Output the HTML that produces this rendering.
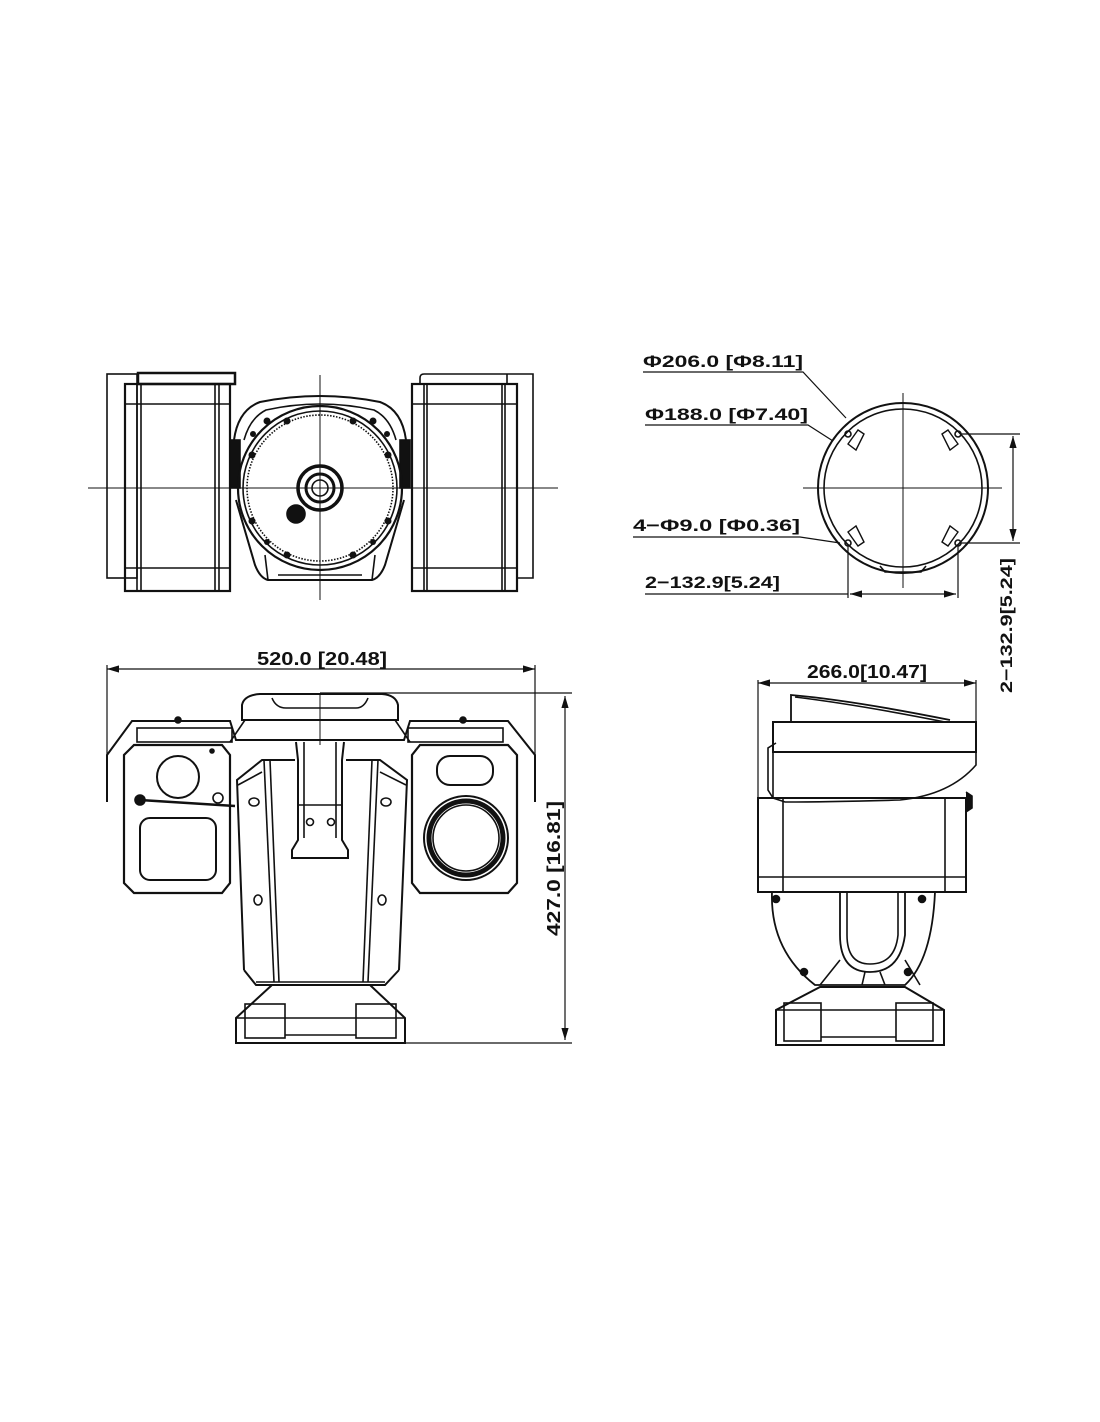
<!DOCTYPE html>
<html><head><meta charset="utf-8"><style>
html,body{margin:0;padding:0;background:#fff}
svg{display:block}
text{font-family:"Liberation Sans",sans-serif;font-weight:bold;fill:#111}
</style></head><body>
<svg width="1100" height="1422" viewBox="0 0 1100 1422" xmlns="http://www.w3.org/2000/svg">
<defs>
<marker id="a" viewBox="0 0 10 6" refX="10" refY="3" markerWidth="10" markerHeight="6" orient="auto-start-reverse"><path d="M0,0 L10,3 L0,6 Z" fill="#111"/></marker>
</defs>
<g fill="none" stroke="#111" stroke-width="1.6">
<!-- ===== TOP LEFT VIEW ===== -->
<line x1="88" y1="488" x2="558" y2="488" stroke-width="1"/>
<line x1="320" y1="375" x2="320" y2="600" stroke-width="1"/>
<rect x="107" y="374" width="30" height="204"/>
<rect x="125" y="384" width="105" height="207" stroke-width="2.2"/>
<line x1="137" y1="384" x2="137" y2="591"/><line x1="141" y1="384" x2="141" y2="591"/>
<line x1="215" y1="384" x2="215" y2="591"/><line x1="219" y1="384" x2="219" y2="591"/>
<line x1="125" y1="404" x2="230" y2="404"/><line x1="125" y1="568" x2="230" y2="568"/>
<rect x="138" y="373" width="97" height="11" stroke-width="2.5"/>
<path d="M420,384 V378 Q420,374 424,374 H533 V578 H517"/>
<line x1="507" y1="374" x2="507" y2="384"/>
<rect x="412" y="384" width="105" height="207" stroke-width="2.2"/>
<line x1="424" y1="384" x2="424" y2="591"/><line x1="427" y1="384" x2="427" y2="591"/>
<line x1="502" y1="384" x2="502" y2="591"/><line x1="505" y1="384" x2="505" y2="591"/>
<line x1="412" y1="404" x2="517" y2="404"/><line x1="412" y1="568" x2="517" y2="568"/>
<path d="M234,440 Q238,410 260,402 Q320,390 380,402 Q402,410 406,440" stroke-width="2"/>
<path d="M244,440 Q250,418 266,410 Q320,398 374,410 Q390,418 396,440"/>
<rect x="230" y="440" width="10" height="48" fill="#111"/>
<rect x="400" y="440" width="10" height="48" fill="#111"/>
<path d="M236,500 L255,565 Q260,578 268,580 H372 Q380,578 385,565 L404,500" stroke-width="2"/>
<line x1="265" y1="555" x2="268" y2="580"/><line x1="375" y1="555" x2="372" y2="580"/>
<line x1="278" y1="575" x2="362" y2="575"/>
<circle cx="320" cy="488" r="82" stroke-width="2.2"/>
<circle cx="320" cy="488" r="77"/>
<circle cx="320" cy="488" r="73" stroke-dasharray="1.5 1.5"/>
<g fill="#111" stroke="none">
<circle cx="267" cy="421" r="3.5"/><circle cx="287" cy="421" r="3.5"/><circle cx="253" cy="434" r="3"/><circle cx="252" cy="455" r="3.5"/>
<circle cx="373" cy="421" r="3.5"/><circle cx="353" cy="421" r="3.5"/><circle cx="387" cy="434" r="3"/><circle cx="388" cy="455" r="3.5"/>
<circle cx="252" cy="521" r="3.5"/><circle cx="267" cy="542" r="3"/><circle cx="287" cy="555" r="3.5"/>
<circle cx="388" cy="521" r="3.5"/><circle cx="373" cy="542" r="3"/><circle cx="353" cy="555" r="3.5"/>
</g>
<circle cx="320" cy="488" r="22" stroke-width="3.5"/>
<circle cx="320" cy="488" r="14" stroke-width="3"/>
<circle cx="320" cy="488" r="8"/>
<circle cx="296" cy="514" r="9" fill="#111"/>
</g>

<!-- ===== TOP RIGHT VIEW ===== -->
<g fill="none" stroke="#111" stroke-width="1.6">
<line x1="803" y1="488" x2="1002" y2="488" stroke-width="1"/>
<line x1="903" y1="393" x2="903" y2="588" stroke-width="1"/>
<circle cx="903" cy="488" r="85" stroke-width="2"/>
<circle cx="903" cy="488" r="79"/>
<path d="M848,444 L858,430 L864,434 L856,450 Z M958,444 L948,430 L942,434 L950,450 Z M848,532 L858,546 L864,542 L856,526 Z M958,532 L948,546 L942,542 L950,526 Z" stroke-width="1.4"/>
<path d="M880,566 L885,572 H921 L926,566"/>
<circle cx="848" cy="434" r="3"/><circle cx="958" cy="434" r="3"/>
<circle cx="848" cy="543" r="3"/><circle cx="958" cy="543" r="3"/>
<line x1="961" y1="434" x2="1020" y2="434" stroke-width="1.2"/>
<line x1="961" y1="543" x2="1020" y2="543" stroke-width="1.2"/>
<line x1="1013" y1="436" x2="1013" y2="541" stroke-width="1.2" marker-start="url(#a)" marker-end="url(#a)"/>
<line x1="848" y1="546" x2="848" y2="598" stroke-width="1.2"/>
<line x1="958" y1="546" x2="958" y2="598" stroke-width="1.2"/>
<line x1="850" y1="594" x2="956" y2="594" stroke-width="1.2" marker-start="url(#a)" marker-end="url(#a)"/>
<line x1="645" y1="594" x2="848" y2="594" stroke-width="1.2"/>
<polyline points="643,372 803,372 846,418" stroke-width="1.2"/>
<polyline points="645,425 808,425 833,441" stroke-width="1.2"/>
<polyline points="633,537 800,537 840,543" stroke-width="1.2"/>
</g>
<text x="643" y="367" font-size="17" textLength="160" lengthAdjust="spacingAndGlyphs">Φ206.0 [Φ8.11]</text>
<text x="645" y="420" font-size="17" textLength="163" lengthAdjust="spacingAndGlyphs">Φ188.0 [Φ7.40]</text>
<text x="633" y="531" font-size="17" textLength="167" lengthAdjust="spacingAndGlyphs">4−Φ9.0 [Φ0.36]</text>
<text x="645" y="588" font-size="17" textLength="135" lengthAdjust="spacingAndGlyphs">2−132.9[5.24]</text>
<text transform="translate(1012,693) rotate(-90)" font-size="17" textLength="135" lengthAdjust="spacingAndGlyphs">2−132.9[5.24]</text>

<!-- ===== BOTTOM LEFT VIEW ===== -->
<g fill="none" stroke="#111" stroke-width="1.6">
<line x1="107" y1="669" x2="535" y2="669" stroke-width="1.2" marker-start="url(#a)" marker-end="url(#a)"/>
<line x1="107" y1="665" x2="107" y2="802" stroke-width="1.2"/>
<line x1="535" y1="665" x2="535" y2="802" stroke-width="1.2"/>
<line x1="320" y1="693" x2="572" y2="693" stroke-width="1.2"/>
<line x1="236" y1="1043" x2="572" y2="1043" stroke-width="1.2"/>
<line x1="565" y1="696" x2="565" y2="1040" stroke-width="1.2" marker-start="url(#a)" marker-end="url(#a)"/>
<line x1="320" y1="693" x2="320" y2="745" stroke-width="1"/>
<path d="M242,720 V705 Q244,695 260,694 H382 Q396,695 398,705 V720 Z" stroke-width="2"/>
<path d="M272,698 Q276,708 286,708 H356 Q364,708 368,698"/>
<path d="M107,802 V755 L132,721 H230 L236,740 H404 L410,721 H508 L535,755 V802" stroke-width="2"/>
<rect x="137" y="728" width="95" height="14"/>
<rect x="408" y="728" width="95" height="14"/>
<path d="M230,742 L245,720 M410,742 L395,720"/>
<circle cx="178" cy="720" r="3" fill="#111"/><circle cx="463" cy="720" r="3" fill="#111"/>
<path d="M134,745 H222 L230,755 V883 L222,893 H134 L124,883 V755 Z" stroke-width="2.2"/>
<circle cx="178" cy="777" r="21" stroke-width="2"/>
<rect x="140" y="818" width="76" height="62" rx="10" stroke-width="2"/>
<circle cx="212" cy="751" r="2" fill="#111"/>
<line x1="140" y1="800" x2="235" y2="806" stroke-width="2.5"/>
<circle cx="140" cy="800" r="5" fill="#111"/>
<circle cx="218" cy="798" r="5"/>
<path d="M420,745 H508 L517,755 V883 L508,893 H420 L412,883 V755 Z" stroke-width="2.2"/>
<rect x="437" y="756" width="56" height="29" rx="13" stroke-width="2"/>
<circle cx="466" cy="838" r="42" stroke-width="2"/>
<circle cx="466" cy="838" r="37" stroke-width="5"/>
<circle cx="466" cy="838" r="33"/>
<path d="M244,970 L237,780 L262,760 H295 M346,760 H380 L407,780 L399,970 M244,970 L256,985 H385 L399,970" stroke-width="2"/>
<line x1="264" y1="760" x2="274" y2="982"/><line x1="270" y1="760" x2="279" y2="982"/>
<line x1="378" y1="760" x2="368" y2="982"/><line x1="372" y1="760" x2="363" y2="982"/>
<path d="M238,785 L262,772 M406,785 L380,772"/>
<ellipse cx="254" cy="802" rx="5" ry="4"/><ellipse cx="386" cy="802" rx="5" ry="4"/>
<ellipse cx="258" cy="900" rx="4" ry="5"/><ellipse cx="382" cy="900" rx="4" ry="5"/>
<path d="M296,742 L298,760 V840 L292,850 V858 H348 V850 L342,840 V760 L344,742" stroke-width="2"/>
<line x1="304" y1="742" x2="304" y2="838"/><line x1="336" y1="742" x2="336" y2="838"/>
<line x1="298" y1="805" x2="342" y2="805"/>
<circle cx="310" cy="822" r="3.5"/><circle cx="331" cy="822" r="3.5"/>
<line x1="256" y1="982" x2="385" y2="982"/>
<path d="M272,985 H370 L405,1018 V1043 H236 V1018 Z" stroke-width="2"/>
<line x1="236" y1="1018" x2="405" y2="1018"/>
<rect x="245" y="1004" width="40" height="34"/>
<rect x="356" y="1004" width="40" height="34"/>
<line x1="285" y1="1035" x2="356" y2="1035"/>
</g>
<text x="322" y="665" font-size="18" text-anchor="middle" textLength="130" lengthAdjust="spacingAndGlyphs">520.0 [20.48]</text>
<text transform="translate(560,936) rotate(-90)" font-size="18" textLength="135" lengthAdjust="spacingAndGlyphs">427.0 [16.81]</text>

<!-- ===== BOTTOM RIGHT VIEW ===== -->
<g fill="none" stroke="#111" stroke-width="1.6">
<line x1="758" y1="683" x2="976" y2="683" stroke-width="1.2" marker-start="url(#a)" marker-end="url(#a)"/>
<line x1="758" y1="680" x2="758" y2="893" stroke-width="1.2"/>
<line x1="976" y1="680" x2="976" y2="722" stroke-width="1.2"/>
<path d="M791,722 V695 Q850,700 950,720" stroke-width="1.8"/>
<path d="M795,697 Q860,705 945,722"/>
<rect x="773" y="722" width="203" height="30" stroke-width="2"/>
<path d="M773,752 V798 L785,802 Q830,802 900,800 Q950,795 976,765 V752"/>
<path d="M776,743 L768,748 V790 L773,798"/>
<rect x="758" y="798" width="208" height="94" stroke-width="2"/>
<line x1="758" y1="877" x2="966" y2="877"/>
<line x1="783" y1="798" x2="783" y2="892"/><line x1="945" y1="798" x2="945" y2="892"/>
<path d="M966,792 L972,796 V808 L966,812" fill="#111"/>
<path d="M772,892 Q770,950 815,985 H905 Q932,960 935,892" stroke-width="1.8"/>
<path d="M840,892 V935 Q840,972 870,972 Q900,972 905,935 V892" stroke-width="1.8"/>
<path d="M847,892 V935 Q847,964 870,964 Q895,964 898,935 V892"/>
<path d="M840,960 L820,985 M905,960 L920,985 M865,972 L862,985 M880,972 L885,985"/>
<circle cx="776" cy="899" r="3.5" fill="#111"/><circle cx="922" cy="899" r="3.5" fill="#111"/>
<circle cx="804" cy="972" r="3.5" fill="#111"/><circle cx="908" cy="972" r="3.5" fill="#111"/>
<path d="M820,987 H905 L944,1010 V1045 H776 V1010 Z" stroke-width="2"/>
<line x1="776" y1="1010" x2="944" y2="1010"/>
<rect x="784" y="1003" width="37" height="38"/>
<rect x="896" y="1003" width="37" height="38"/>
<line x1="821" y1="1037" x2="896" y2="1037"/>
</g>
<text x="867" y="678" font-size="18" text-anchor="middle" textLength="120" lengthAdjust="spacingAndGlyphs">266.0[10.47]</text>
</svg>
</body></html>
